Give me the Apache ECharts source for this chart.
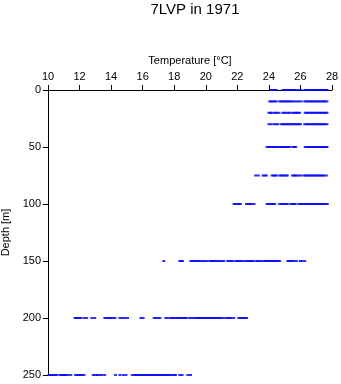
<!DOCTYPE html>
<html><head><meta charset="utf-8">
<script src="https://cdn.jsdelivr.net/npm/echarts@6/dist/echarts.min.js"></script>
<style>html,body{margin:0;padding:0;background:#fff}#c{width:341px;height:384px}</style>
</head><body><div id="c"></div>
<script>
const depths = [0, 10, 20, 30, 50, 75, 100, 150, 200, 250];
const t0 = [24.12,24.2,24.3,24.4,24.47,24.88,24.97,25.06,25.15,25.24,25.33,25.42,25.52,25.62,25.74,25.92,26.04,26.3,26.4,26.5,26.6,26.7,26.8,26.9,27.0,27.1,27.2,27.3,27.4,27.5,27.6,27.68];
const t10 = [24.05,24.15,24.25,24.36,24.47,24.68,24.78,24.88,24.98,25.08,25.18,25.28,25.38,25.5,25.63,25.78,25.9,26.05,26.27,26.37,26.47,26.57,26.67,26.77,26.87,26.97,27.07,27.17,27.27,27.37,27.47,27.57,27.68];
const t20 = [24.0,24.1,24.16,24.33,24.42,24.52,24.64,24.88,24.98,25.08,25.2,25.3,25.46,25.57,25.68,25.75,25.85,25.95,26.3,26.4,26.5,26.6,26.7,26.8,26.9,27.0,27.1,27.2,27.3,27.4,27.5,27.6,27.68];
const t30 = [24.0,24.15,24.33,24.45,24.58,24.8,24.9,25.0,25.1,25.2,25.3,25.4,25.5,25.6,25.7,25.8,25.9,26.0,26.27,26.37,26.47,26.57,26.67,26.77,26.87,26.97,27.07,27.17,27.27,27.37,27.47,27.57,27.68];
const t50 = [23.88,23.98,24.08,24.18,24.28,24.38,24.48,24.58,24.7,24.8,24.9,25.0,25.1,25.2,25.32,25.52,25.62,25.7,26.3,26.4,26.5,26.6,26.7,26.8,26.9,27.0,27.1,27.2,27.3,27.4,27.5,27.6,27.68];
const t75 = [23.16,23.33,23.63,23.74,23.84,24.2,24.3,24.4,24.47,24.68,24.78,24.88,24.98,25.08,25.17,25.5,25.6,25.67,25.76,25.88,26.01,26.2,26.3,26.4,26.5,26.6,26.7,26.8,26.9,27.0,27.1,27.2,27.3,27.4,27.5,27.64];
const t100 = [21.79,21.9,22.0,22.1,22.19,22.58,22.7,22.78,22.9,23.06,23.88,23.98,24.08,24.18,24.28,24.37,24.68,24.78,24.88,24.98,25.08,25.17,25.38,25.5,25.6,25.67,25.89,26.0,26.1,26.2,26.3,26.4,26.5,26.6,26.7,26.8,26.9,27.0,27.1,27.2,27.3,27.4,27.5,27.6,27.7];
const t150 = [17.34,18.35,18.45,18.52,19.05,19.15,19.25,19.35,19.45,19.55,19.68,19.8,19.93,20.06,20.25,20.35,20.45,20.55,20.65,20.76,20.89,21.0,21.14,21.39,21.5,21.6,21.71,21.9,22.0,22.1,22.2,22.3,22.45,22.6,22.7,22.8,22.9,22.97,23.16,23.28,23.4,23.52,23.67,23.77,23.87,23.97,24.07,24.17,24.27,24.37,24.47,24.57,24.68,25.2,25.3,25.4,25.5,25.6,25.76,26.0,26.1,26.27];
const t200 = [11.71,11.8,11.9,12.0,12.07,12.28,12.45,12.78,12.96,13.6,13.7,13.8,13.9,14.0,14.1,14.24,14.56,14.7,14.85,15.04,15.89,16.03,16.73,16.85,16.97,17.09,17.47,17.6,17.78,17.85,17.97,18.1,18.18,18.3,18.4,18.5,18.6,18.7,18.8,18.99,19.1,19.24,19.37,19.47,19.57,19.67,19.77,19.87,19.97,20.07,20.17,20.27,20.37,20.47,20.57,20.67,20.77,20.87,20.97,21.1,21.27,21.4,21.5,21.6,21.77,22.09,22.2,22.3,22.4,22.5,22.58];
const t250 = [10.06,10.15,10.25,10.35,10.45,10.55,10.76,10.86,10.96,11.05,11.14,11.27,11.44,11.75,11.85,11.95,12.05,12.15,12.28,12.87,13.02,13.12,13.25,13.4,13.59,14.28,14.56,14.77,14.94,15.34,15.49,15.55,15.65,15.75,15.85,15.95,16.05,16.15,16.25,16.35,16.45,16.55,16.65,16.75,16.85,16.95,17.05,17.15,17.25,17.35,17.45,17.55,17.65,17.75,17.87,18.0,18.08,18.35,18.5,18.86,19.03];
const temps = [t0, t10, t20, t30, t50, t75, t100, t150, t200, t250];
const xTicks = [10, 12, 14, 16, 18, 20, 22, 24, 26, 28];
const yTicks = [0, 50, 100, 150, 200, 250];

const points = [];
depths.forEach((d, i) => temps[i].forEach(t => points.push([t, d])));

const font = 'Liberation Sans, Arial, sans-serif';
const chart = echarts.init(document.getElementById('c'), null, {renderer: 'canvas'});
chart.setOption({
  animation: false,
  backgroundColor: '#fff',
  title: {
    text: '7LVP in 1971', left: 190, top: -3, textAlign: 'center',
    textStyle: {fontFamily: font, fontSize: 15, fontWeight: 'normal', color: '#000'}
  },
  grid: {left: 48, right: 9, top: 90, bottom: 9, containLabel: false, outerBoundsMode: 'none'},
  xAxis: {
    type: 'value', position: 'top', min: xTicks[0], max: xTicks[xTicks.length - 1], interval: 2,
    name: 'Temperature [°C]', nameLocation: 'middle', nameGap: 22,
    nameTextStyle: {fontFamily: font, fontSize: 11, color: '#000'},
    axisLine: {show: true, lineStyle: {color: '#000', width: 1}},
    axisTick: {show: true, length: 5, lineStyle: {color: '#000'}},
    axisLabel: {fontFamily: font, fontSize: 11, color: '#000', margin: 8},
    splitLine: {show: false}
  },
  yAxis: {
    type: 'value', inverse: true, min: yTicks[0], max: yTicks[yTicks.length - 1], interval: 50,
    name: 'Depth [m]', nameLocation: 'middle', nameGap: 36,
    nameTextStyle: {fontFamily: font, fontSize: 11, color: '#000'},
    axisLine: {show: true, lineStyle: {color: '#000', width: 1}},
    axisTick: {show: true, length: 5, lineStyle: {color: '#000'}},
    axisLabel: {fontFamily: font, fontSize: 11, color: '#000', margin: 7},
    splitLine: {show: false}
  },
  series: [{
    type: 'scatter', data: points, symbol: 'rect', symbolSize: [3, 2],
    itemStyle: {color: '#0000ff'}, silent: true
  }]
});
</script></body></html>
